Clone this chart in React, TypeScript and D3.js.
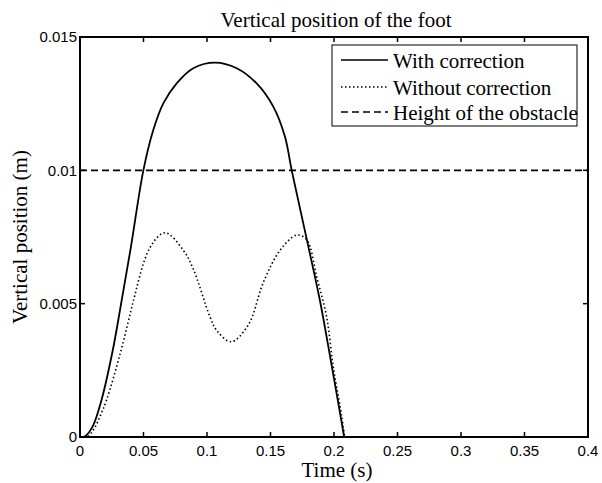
import React from "react";
import * as d3 from "d3";

const withT = [0, 0.004, 0.01, 0.017, 0.026, 0.032, 0.04, 0.0499, 0.0577, 0.0656, 0.0761, 0.0892, 0.1063, 0.1234, 0.1391, 0.1522, 0.1614, 0.1667, 0.18, 0.189, 0.197, 0.204, 0.208];
const withV = [0, 0.00003, 0.0004, 0.0014, 0.0033, 0.0049, 0.0071, 0.01, 0.01151, 0.01251, 0.01326, 0.01383, 0.01404, 0.01383, 0.01326, 0.01239, 0.01126, 0.01, 0.0071, 0.0051, 0.003, 0.0011, 0];

const withoutT = [0, 0.006, 0.011, 0.016, 0.021, 0.0315, 0.0394, 0.042, 0.0551, 0.0669, 0.0814, 0.0892, 0.1024, 0.1076, 0.119, 0.1325, 0.1444, 0.1575, 0.1706, 0.1785, 0.1864, 0.1942, 0.1995, 0.206, 0.2084];
const withoutV = [0, 0.00002, 0.0003, 0.0008, 0.0014, 0.0031, 0.0046, 0.0051, 0.0071, 0.00766, 0.007, 0.0063, 0.0045, 0.004, 0.00357, 0.0042, 0.0058, 0.007, 0.00757, 0.0074, 0.006, 0.0045, 0.0026, 0.0008, 0];

const obstacleHeight = 0.01;
const xTicks = [0, 0.05, 0.1, 0.15, 0.2, 0.25, 0.3, 0.35, 0.4];
const yTicks = [0, 0.005, 0.01, 0.015];
const legendLabels = ["With correction", "Without correction", "Height of the obstacle"];

const W = 602, H = 483;
const L = 80, R = 588, T = 37, B = 437;

export default function App() {
  const x = d3.scaleLinear().domain([0, 0.4]).range([L, R]);
  const y = d3.scaleLinear().domain([0, 0.015]).range([B, T]);
  const line = d3.line<[number, number]>().x(d => x(d[0])).y(d => y(d[1])).curve(d3.curveCatmullRom);
  const withPts = withT.map((t, i) => [t, withV[i]] as [number, number]);
  const withoutPts = withoutT.map((t, i) => [t, withoutV[i]] as [number, number]);
  const serif = "'Liberation Serif', 'Times New Roman', serif";
  const sans = "'Liberation Sans', Arial, sans-serif";
  const dashes = ["none", "1.5,2.5", "7,4"];
  const legY = [60, 87, 112];
  return (
    <svg width={W} height={H} style={{ position: "absolute", left: 0, top: 0, background: "#fff" }}>
      <rect x={0} y={0} width={W} height={H} fill="#fff" />
      <line x1={L} x2={R} y1={y(obstacleHeight)} y2={y(obstacleHeight)} stroke="#000" strokeWidth={1.6} strokeDasharray="7,4" />
      <path d={line(withoutPts) || ""} fill="none" stroke="#000" strokeWidth={1.6} strokeDasharray="1.5,2.5" />
      <path d={line(withPts) || ""} fill="none" stroke="#000" strokeWidth={1.8} />
      {xTicks.map(t => (
        <g key={"x" + t}>
          <line x1={x(t)} x2={x(t)} y1={B} y2={B - 5} stroke="#000" strokeWidth={1.5} />
          <line x1={x(t)} x2={x(t)} y1={T} y2={T + 5} stroke="#000" strokeWidth={1.5} />
          <text x={x(t)} y={456} textAnchor="middle" fontFamily={sans} fontSize={15}>{t}</text>
        </g>
      ))}
      {yTicks.map(v => (
        <g key={"y" + v}>
          <line x1={L} x2={L + 5} y1={y(v)} y2={y(v)} stroke="#000" strokeWidth={1.5} />
          <line x1={R} x2={R - 5} y1={y(v)} y2={y(v)} stroke="#000" strokeWidth={1.5} />
          <text x={77} y={y(v)} dy="0.35em" textAnchor="end" fontFamily={sans} fontSize={15}>{v}</text>
        </g>
      ))}
      <rect x={L} y={T} width={R - L} height={B - T} fill="none" stroke="#000" strokeWidth={2} />
      <rect x={332} y={45} width={245} height={81} fill="#fff" stroke="#000" strokeWidth={1} />
      {legendLabels.map((lab, i) => (
        <g key={lab}>
          <line x1={341} x2={388} y1={legY[i]} y2={legY[i]} stroke="#000" strokeWidth={1.6} strokeDasharray={dashes[i]} />
          <text x={393} y={legY[i] + 8} fontFamily={serif} fontSize={21}>{lab}</text>
        </g>
      ))}
      <text x={336} y={27} textAnchor="middle" fontFamily={serif} fontSize={21}>Vertical position of the foot</text>
      <text x={337} y={477} textAnchor="middle" fontFamily={serif} fontSize={21}>Time (s)</text>
      <text transform={`translate(27,${(T + B) / 2}) rotate(-90)`} textAnchor="middle" fontFamily={serif} fontSize={21}>Vertical position (m)</text>
    </svg>
  );
}
